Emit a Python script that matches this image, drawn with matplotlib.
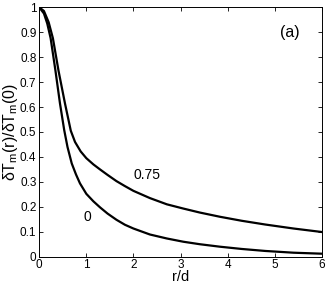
import numpy as np
import matplotlib
matplotlib.use('Agg')
import matplotlib.pyplot as plt

plt.rcParams['font.family'] = ['Liberation Sans', 'DejaVu Sans']
plt.rcParams['mathtext.fontset'] = 'custom'
plt.rcParams['mathtext.rm'] = 'Liberation Sans'
plt.rcParams['mathtext.it'] = 'Liberation Sans'

# curve "0"
r0 = [0, 0.1, 0.17, 0.242, 0.345, 0.44, 0.53, 0.6, 0.69, 0.78, 0.865, 1.0,
      1.15, 1.29, 1.45, 1.64, 1.82, 2.0, 2.35, 2.71, 3.06, 3.41, 3.84, 4.3,
      4.8, 5.4, 6.0]
v0 = [1.0, 0.975, 0.935, 0.876, 0.745, 0.615, 0.508, 0.44, 0.374, 0.33,
      0.294, 0.252, 0.222, 0.198, 0.173, 0.148, 0.128, 0.113, 0.089, 0.073,
      0.060, 0.050, 0.040, 0.031, 0.023, 0.016, 0.012]
# curve "0.75"
r75 = [0, 0.1, 0.2, 0.29, 0.41, 0.546, 0.67, 0.76, 0.88, 1.0, 1.15, 1.29,
       1.45, 1.64, 1.82, 2.0, 2.35, 2.71, 3.06, 3.41, 3.84, 4.3, 4.8, 5.4, 6.0]
v75 = [1.0, 0.985, 0.94, 0.876, 0.745, 0.615, 0.505, 0.46, 0.422, 0.395,
       0.37, 0.350, 0.328, 0.303, 0.283, 0.264, 0.235, 0.210, 0.193, 0.177,
       0.160, 0.144, 0.129, 0.113, 0.099]

fig = plt.figure(figsize=(3.27, 2.87), dpi=100)
ax = fig.add_axes([0.120, 0.1056, 0.864, 0.869])

ax.plot(r0, v0, color='k', lw=1.6)
ax.plot(r75, v75, color='k', lw=1.6)

ax.set_xlim(0, 6)
ax.set_ylim(0, 1)
ax.set_xticks(range(7))
ax.set_yticks(np.arange(0, 1.01, 0.1))
ax.set_yticklabels(['0', '0.1', '0.2', '0.3', '0.4', '0.5', '0.6', '0.7', '0.8', '0.9', '1'])
ax.tick_params(direction='in', length=3, width=0.6, labelsize=8.5, pad=2,
               top=True, right=True)
for s in ax.spines.values():
    s.set_linewidth(0.7)

ax.set_xlabel('r/d', fontsize=10.5, labelpad=-1)
ax.set_ylabel(r'$\delta$T$_{\rm m}$(r)/$\delta$T$_{\rm m}$(0)', fontsize=11.5, labelpad=0)

ax.text(5.33, 0.897, '(a)', fontsize=11.5, ha='center', va='center')
ax.text(2.29, 0.328, '0.75', fontsize=10, ha='center', va='center')
ax.text(1.02, 0.16, '0', fontsize=10, ha='center', va='center')

fig.savefig('out.png', dpi=100)
